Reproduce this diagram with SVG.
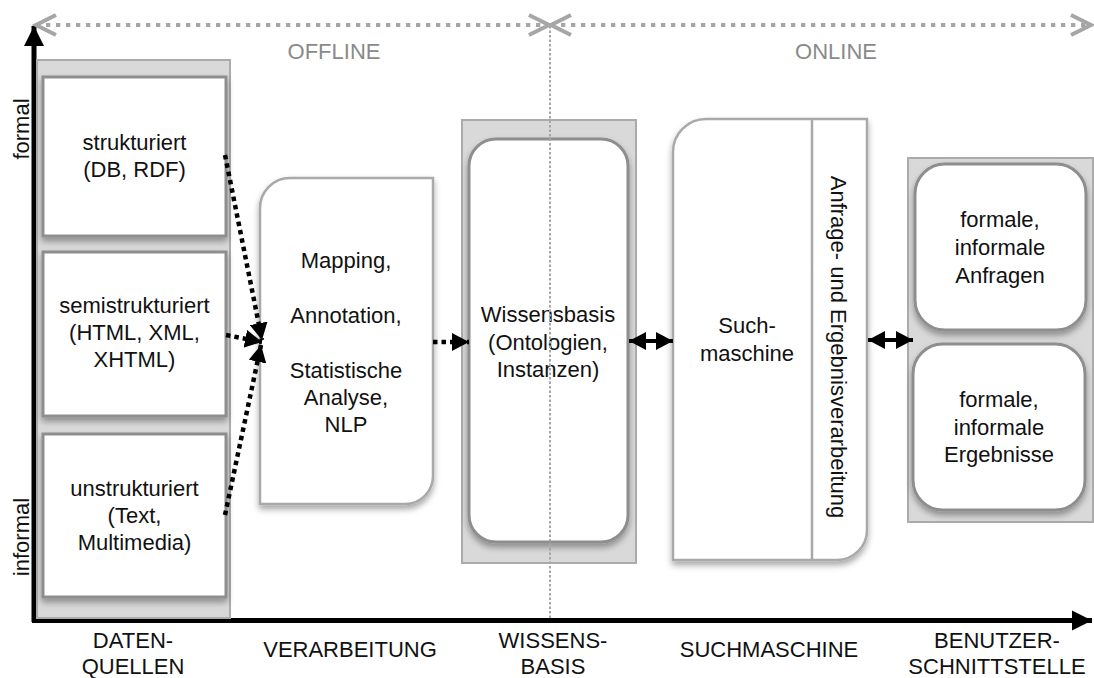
<svg xmlns="http://www.w3.org/2000/svg" width="1094" height="678" viewBox="0 0 1094 678">
  <style>
    text { font-family: "Liberation Sans", Arial, Helvetica, sans-serif; font-size: 22px; fill: #111; }
    .mid { text-anchor: middle; }
    .phase { fill: #8a8a8a; text-anchor: middle; }
    .container { fill: #d9d9d9; stroke: #ababab; stroke-width: 2; }
    .card { fill: #fff; stroke: #8e8e8e; stroke-width: 3; filter: url(#shadow); }
    .panel { fill: #fff; stroke: #a9a9a9; stroke-width: 2.5; filter: url(#shadow); }
    .axis { stroke: #000; stroke-width: 5; fill: none; }
    .flow { stroke: #000; stroke-width: 4.5; stroke-dasharray: 4.5 4; fill: none; }
    .both { stroke: #000; stroke-width: 4; fill: none; }
    .span { stroke: #a6a6a6; stroke-width: 4; stroke-dasharray: 4.3 5.7; fill: none; }
    .divide { stroke: #a6a6a6; stroke-width: 2; stroke-dasharray: 2.5 2; fill: none; }
  </style>
  <defs>
    <filter id="shadow" x="-15%" y="-10%" width="130%" height="125%">
      <feDropShadow dx="0" dy="4" stdDeviation="3" flood-color="#000" flood-opacity="0.35"/>
    </filter>
    <marker id="head" markerUnits="userSpaceOnUse" markerWidth="18" markerHeight="18" refX="17" refY="9" orient="auto-start-reverse">
      <path d="M0,0 L17,9 L0,18 Z" fill="#000"/>
    </marker>
    <marker id="axisHead" markerUnits="userSpaceOnUse" markerWidth="22" markerHeight="24" refX="20" refY="12" orient="auto">
      <path d="M0,2 L20,12 L0,22 Z" fill="#000"/>
    </marker>
    <marker id="chevron" markerUnits="userSpaceOnUse" markerWidth="26" markerHeight="26" refX="22" refY="12" orient="auto-start-reverse">
      <path d="M2,2 L22,12 L2,22" fill="none" stroke="#a6a6a6" stroke-width="4"/>
    </marker>
  </defs>

  <!-- axes -->
  <g id="axes">
    <line class="axis" x1="34" y1="622" x2="34" y2="26" marker-end="url(#axisHead)"/>
    <line class="axis" x1="32" y1="620.5" x2="1092" y2="620.5" marker-end="url(#axisHead)"/>
    <text transform="rotate(-90 29 129)" x="29" y="129" class="mid">formal</text>
    <text transform="rotate(-90 29 537)" x="29" y="537" class="mid">informal</text>
  </g>

  <!-- data sources column -->
  <g id="datenquellen">
    <rect class="container" x="37" y="60" width="193" height="558"/>
    <g id="strukturiert">
      <rect class="card" x="43" y="77" width="183" height="159"/>
      <text class="mid" x="134.5" y="150">strukturiert</text>
      <text class="mid" x="134.5" y="177">(DB, RDF)</text>
    </g>
    <g id="semistrukturiert">
      <rect class="card" x="43" y="252" width="183" height="164"/>
      <text class="mid" x="134.5" y="313">semistrukturiert</text>
      <text class="mid" x="134.5" y="340">(HTML, XML,</text>
      <text class="mid" x="134.5" y="367">XHTML)</text>
    </g>
    <g id="unstrukturiert">
      <rect class="card" x="43" y="434" width="183" height="163"/>
      <text class="mid" x="134.5" y="496">unstrukturiert</text>
      <text class="mid" x="134.5" y="523">(Text,</text>
      <text class="mid" x="134.5" y="550">Multimedia)</text>
    </g>
  </g>

  <!-- processing -->
  <g id="verarbeitung">
    <path class="panel" d="M260,208 A30,30 0 0 1 290,178 L433,178 L433,476 A28,28 0 0 1 405,504 L260,504 Z"/>
    <text class="mid" x="346" y="268">Mapping,</text>
    <text class="mid" x="346" y="323">Annotation,</text>
    <text class="mid" x="346" y="378">Statistische</text>
    <text class="mid" x="346" y="405">Analyse,</text>
    <text class="mid" x="346" y="432">NLP</text>
  </g>

  <!-- knowledge base -->
  <g id="wissensbasis">
    <rect class="container" x="462" y="120" width="174" height="443"/>
    <rect class="card" x="469" y="139" width="159" height="403" rx="27" ry="27"/>
    <text class="mid" x="548" y="322">Wissensbasis</text>
    <text class="mid" x="548" y="350">(Ontologien,</text>
    <text class="mid" x="548" y="377">Instanzen)</text>
  </g>

  <!-- search engine -->
  <g id="suchmaschine">
    <path class="panel" d="M673,152 A33,33 0 0 1 706,119 L867,119 L867,530 A30,30 0 0 1 837,560 L673,560 Z"/>
    <line x1="812" y1="120" x2="812" y2="559" stroke="#a9a9a9" stroke-width="2.5"/>
    <text class="mid" x="747" y="333">Such-</text>
    <text class="mid" x="747" y="361">maschine</text>
    <text transform="rotate(90 831 347)" x="831" y="347" class="mid">Anfrage- und Ergebnisverarbeitung</text>
  </g>

  <!-- user interface -->
  <g id="benutzerschnittstelle">
    <rect class="container" x="908" y="158" width="185" height="364"/>
    <g id="anfragen">
      <rect class="card" x="915" y="164" width="171" height="166" rx="30" ry="30"/>
      <text class="mid" x="1000" y="227">formale,</text>
      <text class="mid" x="1000" y="255">informale</text>
      <text class="mid" x="1000" y="283">Anfragen</text>
    </g>
    <g id="ergebnisse">
      <rect class="card" x="913" y="344" width="172" height="166" rx="30" ry="30"/>
      <text class="mid" x="999" y="407">formale,</text>
      <text class="mid" x="999" y="435">informale</text>
      <text class="mid" x="999" y="462">Ergebnisse</text>
    </g>
  </g>

  <!-- connectors -->
  <g id="connectors">
    <line class="flow" x1="225" y1="155" x2="262" y2="340" marker-end="url(#head)"/>
    <line class="flow" x1="226" y1="335" x2="262" y2="342" marker-end="url(#head)"/>
    <line class="flow" x1="225" y1="515" x2="261" y2="345" marker-end="url(#head)"/>
    <line class="flow" x1="433" y1="342" x2="469" y2="342" marker-end="url(#head)"/>
    <line class="both" x1="629" y1="341" x2="673" y2="341" marker-start="url(#head)" marker-end="url(#head)"/>
    <line class="both" x1="868" y1="340" x2="913" y2="340" marker-start="url(#head)" marker-end="url(#head)"/>
  </g>

  <!-- offline / online spans -->
  <g id="phasen">
    <line class="divide" x1="550" y1="26" x2="550" y2="618"/>
    <line class="span" x1="36" y1="25" x2="549" y2="25" marker-start="url(#chevron)" marker-end="url(#chevron)"/>
    <line class="span" x1="551" y1="25" x2="1091" y2="25" marker-start="url(#chevron)" marker-end="url(#chevron)"/>
    <text class="phase" x="334" y="59">OFFLINE</text>
    <text class="phase" x="836" y="59">ONLINE</text>
  </g>

  <!-- column labels -->
  <g id="spalten">
    <text class="mid" x="133" y="648">DATEN-</text>
    <text class="mid" x="133" y="674">QUELLEN</text>
    <text class="mid" x="350" y="657">VERARBEITUNG</text>
    <text class="mid" x="553" y="648">WISSENS-</text>
    <text class="mid" x="553" y="674">BASIS</text>
    <text class="mid" x="769" y="657">SUCHMASCHINE</text>
    <text class="mid" x="997" y="648">BENUTZER-</text>
    <text class="mid" x="997" y="674">SCHNITTSTELLE</text>
  </g>
</svg>
